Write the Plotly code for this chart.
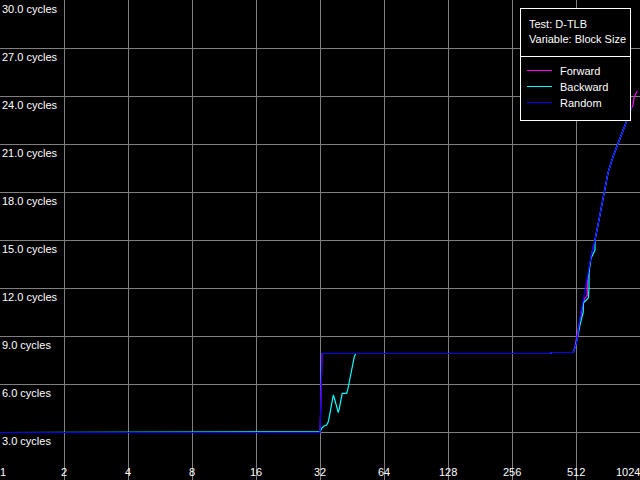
import math
import plotly.graph_objects as go

# ---- axis ticks ----
x_ticks = [1, 2, 4, 8, 16, 32, 64, 128, 256, 512, 1024]
x_tick_labels = ["1", "2", "4", "8", "16", "32", "64", "128", "256", "512", "1024"]
y_ticks = [3, 6, 9, 12, 15, 18, 21, 24, 27, 30]
y_tick_labels = ["3.0 cycles", "6.0 cycles", "9.0 cycles", "12.0 cycles", "15.0 cycles",
                 "18.0 cycles", "21.0 cycles", "24.0 cycles", "27.0 cycles", "30.0 cycles"]

legend_title = ["Test: D-TLB", "Variable: Block Size"]

# ---- series ----
series_names = ["Forward", "Backward", "Random"]
series_colors = ["#ff00ff", "#00ffff", "#0000ff"]

forward_x = [1, 32, 32.2, 32.4, 32.7, 390, 391, 496, 506.5, 517.5, 530, 545, 560, 578.8, 578.8,
             590, 602, 629, 650, 671, 693, 724, 764, 807, 852, 890, 929, 949, 960, 992]
forward_y = [2.969, 2.969, 4.2, 6.6, 7.906, 7.906, 7.969, 7.969, 8.31, 9.06, 9.9, 10.6, 11.3, 11.56, 12.3,
             13.3, 13.94, 15.0, 16.0, 16.94, 18.0, 19.2, 20.2, 21.0, 21.9, 22.5, 23.2, 23.4, 23.9, 24.3]

backward_x = [1, 32, 32.6, 33.4, 34.4, 35.0, 35.4, 35.9, 36.4, 36.96, 37.6, 38.35, 39.0, 39.45,
              40.0, 40.7, 42.7, 43.2, 43.95, 44.75, 45.6, 46.4, 47.1, 390, 391, 496, 506.5, 516,
              523.4, 534.6, 544.7, 554, 554, 570.5, 585, 589.6, 589.6, 602, 606.7, 629, 629,
              650, 671, 693, 724, 764, 807, 852, 890, 929]
backward_y = [2.969, 3.02, 3.23, 3.375, 3.44, 3.64, 3.96, 4.48, 5.0, 5.31, 5.0, 4.58, 4.21, 4.48,
              4.89, 5.42, 5.42, 5.63, 6.14, 6.67, 7.19, 7.71, 7.906, 7.906, 7.969, 7.969, 8.25, 8.63,
              9.06, 9.69, 10.13, 10.5, 11.06, 11.25, 11.38, 12.0, 13.0, 13.88, 13.94, 14.38, 15.0,
              15.94, 16.94, 18.0, 19.2, 20.2, 21.0, 21.9, 22.5, 23.2]

random_x = [1, 32, 32.2, 32.4, 32.7, 390, 391, 496, 506.5, 516, 525, 538.8, 554, 574.8, 585,
            602, 629, 650, 671, 693, 724, 764, 807, 852, 890, 936]
random_y = [2.969, 2.969, 4.2, 6.6, 7.906, 7.906, 7.969, 7.969, 8.25, 8.63, 9.38, 10.44, 11.25, 12.5, 13.0,
            13.94, 15.0, 16.0, 16.94, 18.0, 19.2, 20.2, 21.0, 21.9, 22.5, 23.3]

series_x = [forward_x, backward_x, random_x]
series_y = [forward_y, backward_y, random_y]

W, H = 640, 480
FONT = dict(family="Liberation Sans, Arial, sans-serif", size=11, color="#ffffff")
GRID = "#808080"

fig = go.Figure()
for name, color, xs, ys in zip(series_names, series_colors, series_x, series_y):
    fig.add_trace(go.Scatter(x=xs, y=ys, mode="lines", name=name,
                             line=dict(color=color, width=1.2), showlegend=False,
                             hoverinfo="skip"))

def px(xp):
    return xp / W

def py(yp):
    return 1 - yp / H

annotations = []
# y tick labels (inside, just below gridline)
for v, lab in zip(y_ticks, y_tick_labels):
    annotations.append(dict(x=0, xref="paper", y=v, yref="y", text=lab, showarrow=False,
                            xanchor="left", yanchor="top", xshift=0, yshift=-1,
                            font=FONT))
# x tick labels
n = len(x_ticks)
for i, (v, lab) in enumerate(zip(x_ticks, x_tick_labels)):
    anchor = "left" if i == 0 else ("right" if i == n - 1 else "center")
    shift = -2 if i == 0 else (2 if i == n - 1 else 0)
    annotations.append(dict(x=math.log10(v), xref="x", y=0, yref="paper", text=lab,
                            showarrow=False, xanchor=anchor, yanchor="bottom",
                            xshift=shift, yshift=0, font=FONT))

# legend box
box_l, box_r, box_t, box_b, sep = 520.5, 630.5, 8.5, 120.5, 56.5
shapes = [
    dict(type="rect", xref="paper", yref="paper", x0=px(box_l), x1=px(box_r),
         y0=py(box_b), y1=py(box_t), line=dict(color="#ffffff", width=1),
         fillcolor="#000000", layer="above"),
    dict(type="line", xref="paper", yref="paper", x0=px(box_l), x1=px(box_r),
         y0=py(sep), y1=py(sep), line=dict(color="#ffffff", width=1), layer="above"),
]
title_y = [24, 39]
for t, yy in zip(legend_title, title_y):
    annotations.append(dict(x=px(527), xref="paper", y=py(yy), yref="paper", text=t,
                            showarrow=False, xanchor="left", yanchor="middle", font=FONT))
item_y = [70.5, 86.5, 102.5]
for name, color, yy in zip(series_names, series_colors, item_y):
    shapes.append(dict(type="line", xref="paper", yref="paper", x0=px(527), x1=px(552),
                       y0=py(yy), y1=py(yy), line=dict(color=color, width=1), layer="above"))
    annotations.append(dict(x=px(558), xref="paper", y=py(yy + 0.5), yref="paper", text=name,
                            showarrow=False, xanchor="left", yanchor="middle", font=FONT))

fig.update_layout(
    width=W, height=H,
    margin=dict(l=0, r=0, t=0, b=0),
    paper_bgcolor="#000000", plot_bgcolor="#000000",
    xaxis=dict(type="log", range=[0, math.log10(1024)], tickvals=x_ticks,
               showticklabels=False, showgrid=True, gridcolor=GRID, gridwidth=1,
               zeroline=False, showline=False, ticks=""),
    yaxis=dict(range=[0, 30], tickvals=y_ticks, showticklabels=False, showgrid=True,
               gridcolor=GRID, gridwidth=1, zeroline=False, showline=False, ticks=""),
    annotations=annotations,
    shapes=shapes,
    showlegend=False,
)

post = (
    "document.documentElement.style.margin='0';"
    "document.body.style.margin='0';document.body.style.padding='0';"
    "document.body.style.background='#000';"
    "var s=document.createElement('style');"
    "s.textContent='.gridlayer path,.shapelayer path{shape-rendering:crispEdges}';"
    "document.head.appendChild(s);"
)

fig.write_html("out.html", config={"displayModeBar": False}, post_script=post)
